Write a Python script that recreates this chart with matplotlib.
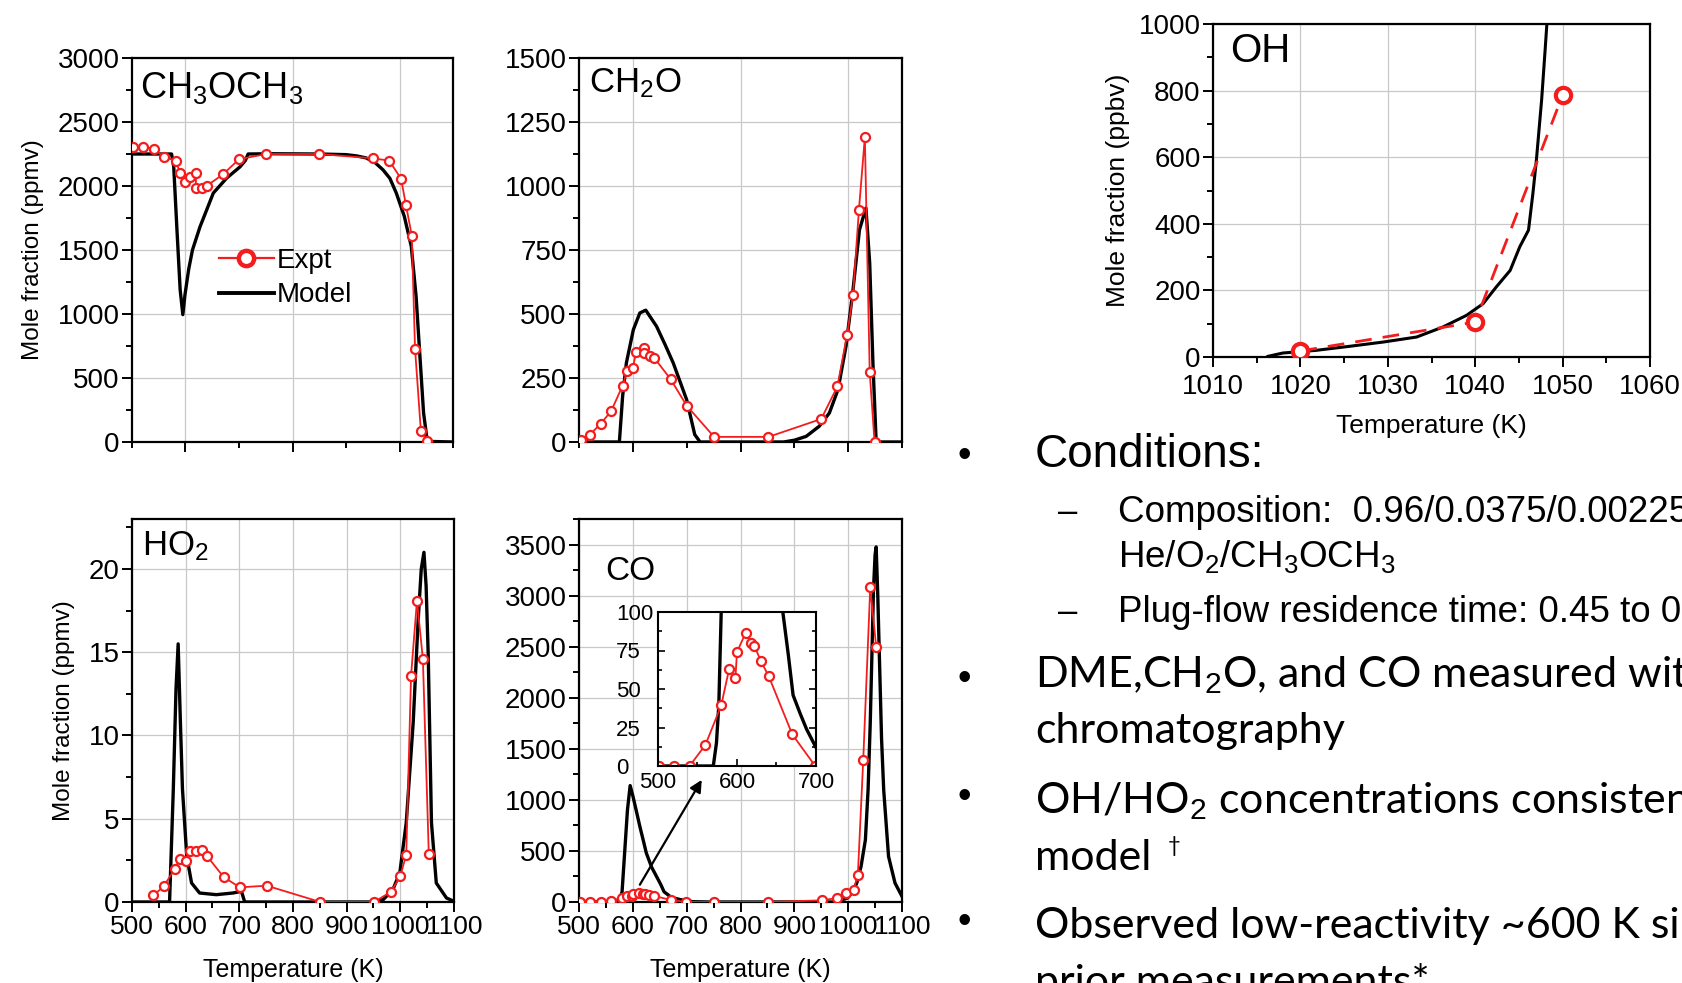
import numpy as np
import matplotlib
matplotlib.use('Agg')
import matplotlib.pyplot as plt
from matplotlib.ticker import MultipleLocator
from matplotlib.lines import Line2D

plt.rcParams['font.family'] = 'Liberation Sans'
plt.rcParams['mathtext.fontset'] = 'custom'
plt.rcParams['mathtext.rm'] = 'Liberation Sans'
plt.rcParams['mathtext.it'] = 'Liberation Sans:italic'
plt.rcParams['mathtext.bf'] = 'Liberation Sans:bold'

#=============================================================================#
# Data
#=============================================================================#
# CH3OCH3 (ppmv)
dme_T_expt = [501, 520, 541, 560, 583, 589, 599, 609, 620, 619, 630, 640, 670, 700,
              751, 850, 951, 981, 1003, 1012, 1023, 1029, 1040, 1052]
dme_expt = [2307, 2305, 2291, 2224, 2198, 2099, 2029, 2073, 2099, 1982, 1982, 2002, 2091, 2209,
            2250, 2250, 2216, 2198, 2055, 1852, 1612, 729, 83, 5]
dme_T_model = [500, 574, 578, 584, 590, 595, 599, 606, 613, 627, 652, 677, 702, 712, 717,
               760, 850, 900, 920, 938, 955, 969, 982, 994, 1009, 1022, 1031, 1039, 1045, 1052, 1100]
dme_model = [2250, 2250, 2150, 1660, 1190, 995, 1150, 1350, 1500, 1680, 1945, 2062, 2150, 2200, 2250,
             2252, 2250, 2245, 2235, 2219, 2180, 2127, 2060, 1945, 1763, 1529, 1138, 617, 227, 5, 0]

# CH2O (ppmv)
ch2o_T_expt = [504, 520, 540, 560, 581, 589, 600, 606, 620, 620, 631, 640, 670, 700,
               751, 852, 950, 980, 998, 1009, 1020, 1031, 1040, 1049]
ch2o_expt = [7, 29, 70, 122, 220, 276, 289, 350, 367, 348, 335, 328, 246, 142,
             20, 20, 90, 217, 419, 575, 907, 1191, 273, 0]
ch2o_T_model = [500, 575, 581, 588, 601, 613, 624, 644, 660, 675, 700, 715, 725, 880, 900, 922,
                946, 965, 981, 996, 1009, 1021, 1033, 1040, 1046, 1052, 1100]
ch2o_model = [0, 0, 178, 309, 439, 504, 515, 452, 380, 309, 165, 29, 0, 0, 7, 22,
              61, 113, 204, 374, 595, 829, 914, 699, 309, 0, 0]

# HO2 (ppmv)
ho2_T_expt = [540, 559, 580, 589, 600, 609, 619, 630, 640, 671, 701, 751, 851, 951,
              982, 1000, 1011, 1020, 1031, 1042, 1053]
ho2_expt = [0.40, 0.94, 2.01, 2.59, 2.49, 3.05, 3.05, 3.15, 2.75, 1.49, 0.88, 0.98, 0, 0,
            0.60, 1.55, 2.85, 13.6, 18.1, 14.6, 2.91]
ho2_T_model = [500, 570, 577, 582, 586, 590, 594, 602, 611, 626, 657, 688, 704, 710, 950, 968,
               986, 999, 1011, 1024, 1033, 1039, 1044, 1048, 1052, 1058, 1067, 1086, 1100]
ho2_model = [0, 0, 6.8, 12.8, 15.5, 11, 6.8, 2.75, 1.14, 0.54, 0.44, 0.54, 0.64, 0, 0, 0.14,
             0.74, 1.75, 4.76, 10.8, 16.8, 20, 21.0, 19, 14.8, 4.76, 1.14, 0.24, 0.04]

# CO (ppmv)
co_T_expt = [501, 520, 540, 560, 580, 590, 598, 600, 611, 618, 622, 630, 640, 670, 699,
             750, 851, 951, 979, 996, 1010, 1018, 1028, 1041, 1052]
co_expt = [0, 0, 0, 13.7, 39.3, 62.9, 57.4, 74, 86.5, 80, 78, 68.4, 58.5, 20.5, 0,
           0, 0, 16, 39, 88, 120, 267, 1392, 3080, 2500]
co_T_model = [500, 570, 574, 577, 580, 585, 590, 595, 600, 607, 613, 620, 625, 635, 644, 652,
              658, 665, 671, 680, 688, 700, 712, 740, 970, 985, 999, 1008, 1016, 1024, 1032,
              1037, 1041, 1044, 1047, 1050, 1052, 1055, 1058, 1062, 1066, 1075, 1087, 1100]
co_model = [0, 0, 15, 40, 100, 500, 900, 1140, 1040, 880, 740, 590, 480, 340, 250, 170,
            100, 72, 46, 34, 24, 12, 3, 0, 0, 15, 39, 100, 186, 350, 609,
            1100, 1750, 2400, 3054, 3400, 3477, 3000, 2402, 1600, 1098, 446, 186, 55]
co_arrow_tail = (613, 169)
co_arrow_head = (728, 1196)

# OH (ppbv)
oh_T_expt = [1020, 1040, 1050]
oh_expt = [18, 105, 786]
oh_T_model = [1016.3, 1018, 1021.8, 1025.6, 1029.5, 1033.3, 1036.3, 1039, 1040.9, 1042.4,
              1044, 1045.1, 1046.1, 1046.6, 1047, 1047.6, 1048, 1048.2, 1048.5]
oh_model = [2, 12, 20, 32, 45, 60, 90, 125, 160, 210,
            260, 331, 381, 491, 591, 772, 922, 1000, 1100]

#=============================================================================#
# Figure layout (pixel boxes on a 1683x983 canvas)
#=============================================================================#
W, H = 1683, 983
RED = '#f41c1c'
fig = plt.figure(figsize=(W / 100, H / 100), dpi=100)


def box(l, t, r, b):
    return [l / W, 1 - b / H, (r - l) / W, (b - t) / H]


def style(ax, xmaj, xmin, ymaj, ymin, size=20):
    ax.xaxis.set_major_locator(MultipleLocator(xmaj))
    ax.xaxis.set_minor_locator(MultipleLocator(xmin))
    ax.yaxis.set_major_locator(MultipleLocator(ymaj))
    ax.yaxis.set_minor_locator(MultipleLocator(ymin))
    ax.tick_params(which='both', direction='out', width=1.4, labelsize=size, pad=2)
    ax.tick_params(which='major', length=7)
    ax.tick_params(which='minor', length=4)
    ax.grid(True, which='major', color='#c8c8c8', lw=0.9)
    ax.set_axisbelow(True)
    for s in ax.spines.values():
        s.set_linewidth(1.6)


def draw(ax, Tm, m, Te, e):
    ax.plot(Tm, m, color='black', lw=2.4, zorder=3)
    ax.plot(Te, e, color=RED, lw=1.3, marker='o', ms=6.5, mfc='white', mec=RED,
            mew=1.6, zorder=4)


ax1 = fig.add_axes(box(132, 58, 453, 442))
ax2 = fig.add_axes(box(579, 58, 902, 442))
ax3 = fig.add_axes(box(132, 519, 454, 902))
ax4 = fig.add_axes(box(579, 519, 902, 902))

draw(ax1, dme_T_model, dme_model, dme_T_expt, dme_expt)
draw(ax2, ch2o_T_model, ch2o_model, ch2o_T_expt, ch2o_expt)
draw(ax3, ho2_T_model, ho2_model, ho2_T_expt, ho2_expt)
draw(ax4, co_T_model, co_model, co_T_expt, co_expt)

for ax in (ax1, ax2):
    ax.set_xlim(500, 1100)
    style(ax, 200, 100, 500, 250)
    ax.tick_params(axis='x', labelbottom=False)
ax1.set_ylim(0, 3000)
ax2.set_ylim(0, 1500)
ax2.yaxis.set_major_locator(MultipleLocator(250))
ax2.yaxis.set_minor_locator(MultipleLocator(125))

style(ax3, 100, 50, 5, 2.5, size=19)
ax3.set_xlim(500, 1100)
ax3.set_ylim(0, 23)
style(ax4, 100, 50, 500, 250, size=19)
ax4.set_xlim(500, 1100)
ax4.set_ylim(0, 3750)
ax3.tick_params(axis='y', labelsize=20)
ax4.tick_params(axis='y', labelsize=20)

for ax in (ax1, ax3):
    ax.set_ylabel('Mole fraction (ppmv)', fontsize=17.5, labelpad=10)
for ax in (ax3, ax4):
    ax.set_xlabel('Temperature (K)', fontsize=18, labelpad=14)

ax1.text(0.025, 0.895, 'CH$_3$OCH$_3$', transform=ax1.transAxes, fontsize=26)
ax2.text(0.03, 0.91, 'CH$_2$O', transform=ax2.transAxes, fontsize=25)
ax3.text(0.03, 0.905, 'HO$_2$', transform=ax3.transAxes, fontsize=25)
ax4.text(0.08, 0.84, 'CO', transform=ax4.transAxes, fontsize=24)

leg_handles = [Line2D([], [], color=RED, lw=1.6, marker='o', ms=11, mfc='white', mec=RED, mew=3.2),
               Line2D([], [], color='black', lw=2.8)]
ax1.legend(leg_handles, ['Expt', 'Model'], loc='upper left', bbox_to_anchor=(0.27, 0.505),
           frameon=False, fontsize=20, handlelength=2.0, handletextpad=0.1,
           labelspacing=0.3, borderpad=0, borderaxespad=0)

ax4.annotate('', xy=co_arrow_head, xytext=co_arrow_tail,
             arrowprops=dict(arrowstyle='-|>', color='black', lw=1.6, mutation_scale=18,
                             shrinkA=0, shrinkB=0), zorder=6)

# inset of the low temperature CO
axi = fig.add_axes(box(658, 612, 816, 766))
axi.set_facecolor('white')
axi.plot(co_T_model, co_model, color='black', lw=2.4)
axi.plot(co_T_expt, co_expt, color=RED, lw=1.3, marker='o', ms=6.5, mfc='white',
         mec=RED, mew=1.6)
axi.set_xlim(500, 700)
axi.set_ylim(0, 100)
axi.xaxis.set_major_locator(MultipleLocator(100))
axi.xaxis.set_minor_locator(MultipleLocator(50))
axi.yaxis.set_major_locator(MultipleLocator(25))
axi.yaxis.set_minor_locator(MultipleLocator(12.5))
axi.tick_params(which='both', direction='in', right=True, width=1.2, labelsize=16)
axi.tick_params(axis='x', pad=4)
axi.tick_params(axis='y', pad=30)
axi.tick_params(which='major', length=5)
axi.tick_params(which='minor', length=3)
for lab in axi.get_yticklabels():
    lab.set_horizontalalignment('left')
for s in axi.spines.values():
    s.set_linewidth(1.5)

# OH panel
ax5 = fig.add_axes(box(1213, 24, 1650, 357))
ax5.plot(oh_T_model, oh_model, color='black', lw=2.2, zorder=3)
ax5.plot(oh_T_expt, oh_expt, color=RED, lw=2.0, ls=(0, (6, 4)), marker='o', ms=11,
         mfc='white', mec=RED, mew=3, zorder=4)
ax5.set_xlim(1010, 1060)
ax5.set_ylim(0, 1000)
style(ax5, 10, 5, 200, 100, size=20)
ax5.tick_params(axis='x', pad=5)
ax5.set_ylabel('Mole fraction (ppbv)', fontsize=19, labelpad=6)
ax5.set_xlabel('Temperature (K)', fontsize=19, labelpad=10)
ax5.text(0.04, 0.885, 'OH', transform=ax5.transAxes, fontsize=29)

#=============================================================================#
# Bullet text on the right of the slide
#=============================================================================#
def put(x, y, s, **kw):
    fig.text(x / W, 1 - y / H, s, va='baseline', ha='left', **kw)


CAL = ['Lato', 'DejaVu Sans']
put(958, 467, '\u2022', fontsize=28)
put(1035, 467, 'Conditions:', fontsize=33)
put(1058, 522, '\u2013', fontsize=25)
put(1118, 522, 'Composition:  0.96/0.0375/0.00225', fontsize=26.5)
put(1118, 567, 'He/O$_2$/CH$_3$OCH$_3$', fontsize=26.5)
put(1058, 622, '\u2013', fontsize=25)
put(1118, 622, 'Plug-flow residence time: 0.45 to 0', fontsize=26.5)

put(958, 690, '\u2022', fontsize=28)
put(1035, 687, 'DME,CH$_2$O, and CO measured wit', fontsize=31, family=CAL)
put(1035, 743, 'chromatography', fontsize=31, family=CAL)
put(958, 808, '\u2022', fontsize=28)
put(1035, 813, 'OH/HO$_2$ concentrations consisten', fontsize=31, family=CAL)
put(1035, 870, 'model', fontsize=31, family=CAL)
put(1168, 852, '\u2020', fontsize=16, family=CAL)
put(958, 933, '\u2022', fontsize=28)
put(1035, 938, 'Observed low-reactivity ~600 K si', fontsize=31, family=CAL)
put(1035, 995, 'prior measurements*', fontsize=31, family=CAL)

fig.savefig('out.png', dpi=100)
